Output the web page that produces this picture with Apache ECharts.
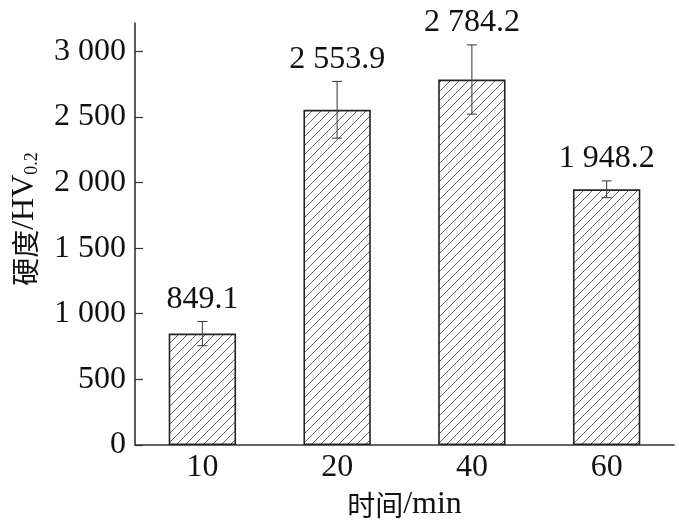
<!DOCTYPE html>
<html><head><meta charset="utf-8">
<script src="https://cdn.jsdelivr.net/npm/echarts@6/dist/echarts.min.js"></script>
<style>html,body{margin:0;padding:0;background:#fff}#c{width:679px;height:526px}</style>
</head><body><div id="c"></div>
<script>
var categories = ['10', '20', '40', '60'];
var hardness = [849.1, 2553.9, 2784.2, 1948.2];
var errors = [92, 216, 264, 64];
var yTicks = [0, 500, 1000, 1500, 2000, 2500, 3000];

var SERIF = '"Liberation Serif","DejaVu Serif",serif';
var CJK = '"Noto Sans CJK SC",' + SERIF;

function fmt(v, dec) {
  var s = dec ? v.toFixed(dec) : String(v);
  var parts = s.split('.');
  parts[0] = parts[0].replace(/\B(?=(\d{3})+(?!\d))/g, ' ');
  return parts.join('.');
}

var pc = document.createElement('canvas');
pc.width = 9; pc.height = 9;
var g = pc.getContext('2d');
g.fillStyle = '#fff'; g.fillRect(0, 0, 9, 9);
g.strokeStyle = '#666'; g.lineWidth = 1;
g.beginPath();
g.moveTo(0, 9); g.lineTo(9, 0);
g.moveTo(-2, 2); g.lineTo(2, -2);
g.moveTo(7, 11); g.lineTo(11, 7);
g.stroke();

var errData = hardness.map(function (v, i) { return [i, v, errors[i]]; });

var chart = echarts.init(document.getElementById('c'));
chart.setOption({
  animation: false,
  grid: { left: 135, right: 5, top: 23, bottom: 80.5 },
  xAxis: {
    type: 'category', data: categories,
    axisLine: { lineStyle: { color: '#333', width: 1.6 } },
    axisTick: { show: false },
    axisLabel: { color: '#111', fontFamily: SERIF, fontSize: 32, margin: 7 },
    name: '{a|时间}{b|/min}', nameLocation: 'middle', nameGap: 44,
    nameTextStyle: { rich: {
      a: { fontFamily: CJK, fontSize: 28, color: '#111' },
      b: { fontFamily: SERIF, fontSize: 32, color: '#111' } } }
  },
  yAxis: {
    type: 'value', min: 0, max: 3215, interval: 500,
    axisLine: { show: true, lineStyle: { color: '#333', width: 1.6 } },
    axisTick: { show: true, inside: true, length: 8, customValues: yTicks, lineStyle: { color: '#333', width: 1.2 } },
    axisLabel: { color: '#111', fontFamily: SERIF, fontSize: 32, margin: 9, customValues: yTicks,
      formatter: function (v) { return fmt(v); } },
    splitLine: { show: false },
    name: '{a|硬度}{b|/HV}{s|0.2}', nameLocation: 'middle', nameGap: 94,
    nameTextStyle: { padding: [0, 0, 0, 30],
      rich: { a: { fontFamily: CJK, fontSize: 28, color: '#111' },
              b: { fontFamily: SERIF, fontSize: 32, color: '#111' },
              s: { fontFamily: SERIF, fontSize: 18, color: '#111', verticalAlign: 'bottom', padding: [14, 0, 0, 0] } } }
  },
  series: [{
    type: 'bar', data: hardness, barWidth: '50%',
    itemStyle: { color: { image: pc, repeat: 'repeat' }, borderColor: '#222', borderWidth: 1.6 }
  }, {
    type: 'custom', data: errData, z: 5,
    renderItem: function (params, api) {
      var x = api.value(0), v = api.value(1), e = api.value(2);
      var top = api.coord([x, v + e]);
      var bot = api.coord([x, v - e]);
      var cx = top[0];
      var st = { stroke: '#444', lineWidth: 1.1 };
      return {
        type: 'group',
        children: [
          { type: 'line', shape: { x1: cx, y1: top[1], x2: cx, y2: bot[1] }, style: st },
          { type: 'line', shape: { x1: cx - 5, y1: top[1], x2: cx + 5, y2: top[1] }, style: st },
          { type: 'line', shape: { x1: cx - 5, y1: bot[1], x2: cx + 5, y2: bot[1] }, style: st },
          { type: 'text', x: cx, y: top[1] - 6,
            style: { text: fmt(v, 1), fill: '#111', font: '32px ' + SERIF, textAlign: 'center', textVerticalAlign: 'bottom' } }
        ]
      };
    }
  }]
});
</script></body></html>
